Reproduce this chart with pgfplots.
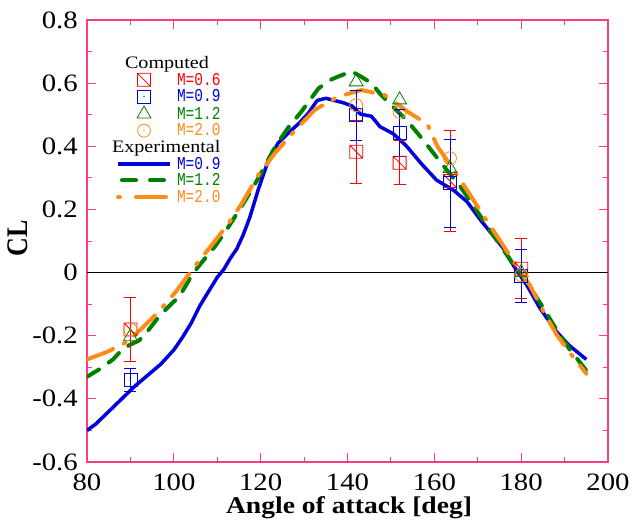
\documentclass[border=0pt]{standalone}
\usepackage{fontspec}
\setmainfont{Liberation Serif}[FakeStretch=1.15]
\newfontfamily\plainserif{Liberation Serif}
\setmonofont{Liberation Mono}
\usepackage{graphicx}
\usepackage{pgfplots}
\pgfplotsset{compat=1.18}
\usepackage{pgfplotstable}
\definecolor{frame}{RGB}{255,60,130}
\definecolor{cblue}{RGB}{0,0,220}
\definecolor{cgreen}{RGB}{0,128,0}
\definecolor{corange}{RGB}{255,140,25}
\definecolor{cred}{RGB}{255,0,0}

\pgfdeclareplotmark{sqdiag}{%
  \pgfpathrectangle{\pgfpoint{-\pgfplotmarksize}{-\pgfplotmarksize}}{\pgfpoint{2\pgfplotmarksize}{2\pgfplotmarksize}}%
  \pgfpathmoveto{\pgfpoint{-\pgfplotmarksize}{\pgfplotmarksize}}%
  \pgfpathlineto{\pgfpoint{\pgfplotmarksize}{-\pgfplotmarksize}}%
  \pgfusepathqstroke}
\pgfdeclareplotmark{sqdot}{%
  \pgfpathrectangle{\pgfpoint{-\pgfplotmarksize}{-\pgfplotmarksize}}{\pgfpoint{2\pgfplotmarksize}{2\pgfplotmarksize}}%
  \pgfusepathqstroke
  \pgfpathcircle{\pgfpointorigin}{0.7pt}\pgfusepathqfill}
\pgfdeclareplotmark{ocdot}{%
  \pgfpathcircle{\pgfpointorigin}{\pgfplotmarksize}\pgfusepathqstroke
  \pgfpathcircle{\pgfpointorigin}{0.7pt}\pgfusepathqfill}

\pgfplotsset{
  mleg/.style={legend image code/.code={\draw[##1] plot[only marks] coordinates {(26pt,0pt)};}},
  lleg/.style={legend image code/.code={\draw[##1] (0pt,0pt) -- (52pt,0pt);}},
  gleg/.style={legend image code/.code={\draw[##1] (4pt,0pt) -- (52pt,0pt);}},
}
\newcommand{\mtxt}[1]{\scalebox{1}[1.25]{#1}}

\pgfplotstableread{
x y
80 -0.500
82 -0.480
85 -0.440
88 -0.400
91 -0.360
94 -0.325
97 -0.290
100 -0.245
102 -0.205
104 -0.160
106 -0.105
108 -0.060
110 -0.015
111.5 0.010
113 0.045
114.5 0.075
116 0.120
117.5 0.175
119.5 0.265
121.5 0.345
124 0.410
127 0.450
129 0.475
131 0.505
133 0.545
135 0.552
137 0.545
139 0.538
141 0.528
143 0.502
145.5 0.495
147.5 0.462
150.5 0.440
153.5 0.402
157 0.345
160.5 0.293
164.5 0.260
167.5 0.225
171 0.160
174 0.110
176 0.075
178.2 0.023
181.3 -0.040
184.3 -0.112
188 -0.185
191 -0.230
195 -0.275
}\expblue

\pgfplotstableread{
x y
80 -0.330
83 -0.305
86 -0.275
88 -0.245
90 -0.228
92 -0.215
94 -0.185
96.7 -0.137
99 -0.105
101.3 -0.075
104.3 -0.005
106 0.025
109.6 0.085
112.7 0.147
116.5 0.230
119.5 0.300
123.4 0.400
126.4 0.460
129.4 0.510
133.3 0.583
136 0.610
138.6 0.625
141 0.637
143.2 0.620
145.5 0.600
147.7 0.563
150.5 0.525
153.8 0.480
157.6 0.417
161.4 0.350
166 0.272
169.1 0.210
172 0.150
175 0.090
178 0.030
180 -0.005
182 -0.045
185 -0.110
188.1 -0.180
191 -0.240
195 -0.310
}\expgreen

\pgfplotstableread{
x y
80 -0.275
84.5 -0.252
89 -0.221
92 -0.185
95.9 -0.133
100.5 -0.060
105 0.023
108.9 0.090
112.7 0.158
115.7 0.220
119.5 0.310
123.4 0.380
127.9 0.450
132.5 0.516
137.8 0.557
143.2 0.578
148.5 0.563
153.8 0.510
158.4 0.470
160.7 0.400
164.5 0.324
168.3 0.245
171.4 0.178
175.2 0.100
178 0.040
180 0.000
182 -0.040
185.1 -0.122
188.1 -0.195
191 -0.250
195 -0.320
}\exporange

\pgfplotstableread{
x y e
90 -0.180 0.100
142 0.383 0.100
152 0.348 0.070
163.6 0.290 0.160
180 0.012 0.095
}\cmpred

\pgfplotstableread{
x y e
90 -0.340 0.035
142 0.498 0.080
152 0.443 0.075
163.6 0.283 0.140
180 -0.011 0.085
}\cmpblue

\pgfplotstableread{
x y
90 -0.203
142 0.604
152 0.547
163.6 0.330
180 0.000
}\cmpgreen

\pgfplotstableread{
x y
90 -0.180
142 0.530
152 0.509
163.6 0.362
180 -0.008
}\cmporange

\begin{document}
\begin{tikzpicture}
\begin{axis}[
  name=ax,
  scale only axis, width=521pt, height=442pt,
  xmin=80, xmax=200, ymin=-0.6, ymax=0.8,
  xtick={80,100,120,140,160,180,200},
  xticklabels={80,100,120,140,160,180,200},
  ytick={-0.6,-0.4,-0.2,0,0.2,0.4,0.6,0.8},
  yticklabels={-0.6,-0.4,-0.2,0,0.2,0.4,0.6,0.8},
  minor x tick num=1, minor y tick num=1,
  tick align=inside, major tick length=9pt, minor tick length=5pt,
  axis line style={frame, line width=1.2pt},
  every tick/.style={frame, line width=1pt},
  every minor tick/.style={frame, line width=1pt},
  /pgf/number format/assume math mode=true,
  tick label style={font=\fontsize{25}{25}\selectfont},
  xticklabel style={anchor=north, inner sep=0pt, yshift=-12pt},
  yticklabel style={anchor=east, inner sep=0pt, xshift=-9pt},
  xlabel={Angle of attack [deg]},
  ylabel={\scalebox{1}[1.15]{\plainserif\bfseries CL}},
  xlabel style={font=\fontsize{24}{24}\selectfont\bfseries,
    at={(axis description cs:0.503,0)}, anchor=base, yshift=-51pt},
  ylabel style={font=\fontsize{26}{26}\selectfont,
    at={(axis description cs:-0.132,0.506)}, anchor=center},
  legend cell align=left,
  legend style={at={(0.0557,0.918)}, anchor=north west, draw=none, fill=none,
    inner sep=0pt, outer sep=0pt, row sep=2.6pt, column sep=5pt,
    font=\fontsize{14.5}{14.5}\ttfamily,
    nodes={inner sep=0pt, text height=12.2pt, text depth=1.8pt}},
]
\addlegendimage{empty legend}
\addlegendentry[font=\fontsize{17.5}{17.5}\rmfamily]{\hspace*{-52pt}Computed}
\addlegendimage{mleg, cred, mark=sqdiag, mark size=6.5pt, line width=0.8pt}
\addlegendentry[text=cred]{\mtxt{M=0.6}}
\addlegendimage{mleg, cblue, mark=sqdot, mark size=6.5pt, line width=0.8pt}
\addlegendentry[text=cblue]{\mtxt{M=0.9}}
\addlegendimage{mleg, cgreen, mark=triangle, mark size=8pt, line width=0.8pt}
\addlegendentry[text=cgreen]{\mtxt{M=1.2}}
\addlegendimage{mleg, corange, mark=ocdot, mark size=6.5pt, line width=0.8pt}
\addlegendentry[text=corange]{\mtxt{M=2.0}}
\addlegendimage{empty legend}
\addlegendentry[font=\fontsize{17.5}{17.5}\rmfamily]{\hspace*{-65pt}Experimental}
\addlegendimage{lleg, cblue, line width=3.5pt}
\addlegendentry[text=cblue]{\mtxt{M=0.9}}
\addlegendimage{gleg, cgreen, line width=4pt, dash pattern=on 14pt off 14pt, line cap=round}
\addlegendentry[text=cgreen]{\mtxt{M=1.2}}
\addlegendimage{lleg, corange, line width=4pt, dash pattern=on 2pt off 16pt on 30pt off 14pt, line cap=round}
\addlegendentry[text=corange]{\mtxt{M=2.0}}

\addplot[black, line width=0.7pt, forget plot] coordinates {(80,0) (200,0)};

\addplot[cblue, line width=3.5pt, line join=round, forget plot] table[x=x,y=y] {\expblue};
\addplot[cgreen, line width=4pt, line join=round, line cap=round, dash pattern=on 14pt off 12pt, forget plot] table[x=x,y=y] {\expgreen};
\addplot[corange, line width=4pt, line join=round, line cap=round, dash pattern=on 28pt off 12pt on 2pt off 12pt, forget plot] table[x=x,y=y] {\exporange};

\addplot[cred, only marks, mark=sqdiag, mark size=6.5pt, line width=0.8pt, forget plot,
  error bars/.cd, y dir=both, y explicit,
  error bar style={cred, line width=0.9pt},
  error mark options={rotate=90, cred, mark size=6pt, line width=0.9pt}]
  table[x=x, y=y, y error=e] {\cmpred};
\addplot[cblue, only marks, mark=sqdot, mark size=6.5pt, line width=0.8pt, forget plot,
  error bars/.cd, y dir=both, y explicit,
  error bar style={cblue, line width=0.9pt},
  error mark options={rotate=90, cblue, mark size=6pt, line width=0.9pt}]
  table[x=x, y=y, y error=e] {\cmpblue};
\addplot[cgreen, only marks, mark=triangle, mark size=8pt, line width=0.8pt, forget plot] table[x=x,y=y] {\cmpgreen};
\addplot[corange, only marks, mark=ocdot, mark size=6.5pt, line width=0.8pt, forget plot] table[x=x,y=y] {\cmporange};
\end{axis}
\path ([xshift=-87pt,yshift=-62pt]ax.south west) rectangle ([xshift=24pt,yshift=20pt]ax.north east);
\end{tikzpicture}
\end{document}
